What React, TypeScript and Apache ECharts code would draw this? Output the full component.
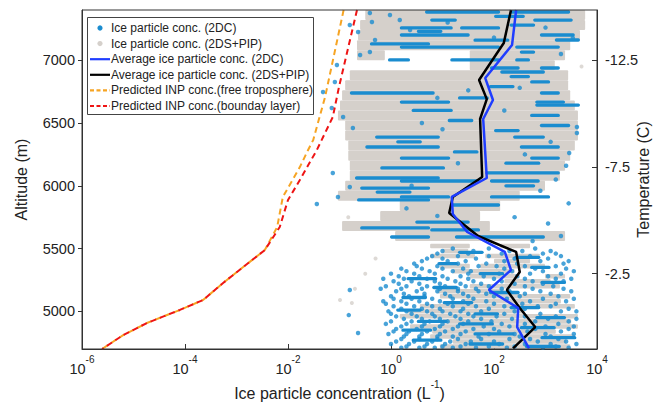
import React, { useEffect, useRef } from 'react';
import * as echarts from 'echarts';

const FONT = '"Liberation Sans", Arial, Helvetica, sans-serif';

const seriesNames = [
  'Ice particle conc. (2DC)',
  'Ice particle conc. (2DS+PIP)',
  'Average ice particle conc. (2DC)',
  'Average ice particle conc. (2DS+PIP)',
  'Predicted INP conc.(free troposphere)',
  'Predicted INP conc.(bounday layer)',
];

const colors = ['#1a8ccf', '#d5d0cb', '#1f3dff', '#000000', '#f6a423', '#ee1414'];

const altitudeTicks = [5000, 5500, 6000, 6500, 7000];
const temperatureTicks = [-12.5, -7.5, -2.5];

// [log10 concentration, altitude m]
const avg2DC = [
  [2.43, 7400], [2.35, 7121], [1.83, 6858], [1.98, 6683], [1.79, 6532], [1.86, 6062],
  [1.18, 5911], [1.2, 5775], [1.48, 5632], [2.21, 5473], [2.33, 5329], [1.9, 5170],
  [2.47, 5026], [2.45, 4875], [2.68, 4705],
];
const avg2DS = [
  [2.33, 7400], [2.19, 7137], [1.71, 6842], [1.86, 6690], [1.73, 6532], [1.77, 6070],
  [1.2, 5911], [1.13, 5783], [1.69, 5600], [2.43, 5473], [2.5, 5313], [2.25, 5170],
  [2.5, 5026], [2.8, 4875], [2.37, 4705],
];
const inpFree = [
  [-0.92, 7400], [-1.28, 6707], [-1.51, 6365], [-1.61, 6285], [-1.77, 6149], [-2.1, 5911],
  [-2.21, 5672], [-2.45, 5488], [-2.87, 5353], [-3.26, 5226], [-3.65, 5090], [-4.1, 5011],
  [-4.74, 4907], [-5.2, 4811], [-5.61, 4700],
];
const inpBoundary = [
  [-0.66, 7400], [-1.01, 6787], [-1.13, 6548], [-1.44, 6285], [-1.77, 6046], [-2.0, 5887],
  [-2.16, 5672], [-2.45, 5488], [-2.87, 5353], [-3.26, 5226], [-3.65, 5090], [-4.1, 5011],
  [-4.74, 4907], [-5.2, 4811], [-5.61, 4700],
];

// 2DS+PIP cloud rows: [altitude, log10 min, log10 max]
const grayDenseRows = [
  [7360, -0.5, 3.77], [7280, -0.6, 3.77], [7200, -0.64, 3.67], [7120, -0.66, 3.48],
  [7040, -0.66, -0.12], [7040, 1.53, 3.38], [6960, 1.53, 3.18],
  [6880, -0.8, 3.44], [6800, -0.89, 3.44], [6720, -0.95, 3.48], [6640, -0.99, 3.57],
  [6560, -1.03, 3.63], [6480, -0.89, 3.63], [6400, -0.89, 3.63], [6320, -0.83, 3.57],
  [6240, -0.83, 3.48], [6160, -0.8, 3.38], [6080, -0.8, 3.28], [6000, -0.89, 2.99],
  [5920, -1.03, 2.5], [5840, 0.17, 2.12], [5760, -0.21, 1.73], [5680, -0.95, 1.92],
  [5600, 0.08, 3.38],
];
const graySparseRows = [
  [5520, 0.76, 1.53], [5520, 2.12, 2.7], [5480, 1.0, 1.5], [5440, 0.76, 1.63], [5440, 1.83, 2.89],
  [5400, 2.0, 2.7], [5360, 0.95, 1.53], [5360, 1.73, 2.99], [5320, 1.2, 2.4],
  [5280, 1.53, 2.5], [5280, 2.99, 3.38], [5240, 2.2, 3.1], [5200, 1.53, 3.28],
  [5160, 0.9, 2.2], [5120, 0.95, 3.48], [5080, 1.4, 3.3], [5040, 0.56, 3.57],
  [5000, 0.3, 2.6], [4960, 0.17, 3.63], [4920, 1.0, 3.5], [4880, 0.37, 3.63],
  [4840, 0.8, 3.2], [4800, 0.76, 3.57], [4760, 1.2, 3.4], [4720, 0.95, 3.48],
];
const grayDots = [
  [-0.99, 5090], [-0.76, 5066], [-0.83, 5750], [-0.15, 5750], [-0.7, 5180], [-0.5, 5300],
  [-0.3, 5420], [3.7, 6950], [3.72, 7300],
];

// 2DC streaks: [altitude, log10 min, log10 max]
const blueStreaks = [
  [7384, 0.66, 2.12], [7384, 2.31, 3.48], [7320, 0.76, 1.28], [7320, 2.76, 3.53],
  [7257, 0.17, 1.2], [7257, 1.34, 2.12], [7201, 0.17, 1.53], [7201, 2.89, 3.57],
  [7161, 3.18, 3.67], [7130, -0.41, 0.76], [7105, 0.17, 2.12], [7105, 2.41, 3.28],
  [7065, 2.5, 2.8], [7002, 1.15, 2.12], [7002, 2.41, 2.7], [7002, -0.06, 0.37],
  [6938, 1.92, 2.5], [6938, 2.89, 3.28], [6906, 2.12, 2.99], [6827, 2.7, 3.09],
  [6739, -0.8, 0.85], [6739, 2.89, 3.28], [6667, 0.17, 1.15], [6667, 2.8, 3.38],
  [6643, 2.8, 3.67], [6560, 2.7, 3.28], [6480, 2.89, 3.48],
  [6388, -0.31, 0.95], [6388, 2.37, 2.99], [6309, -0.5, 0.95], [6309, 2.5, 3.28],
  [6221, 0.17, 1.15], [6221, 2.7, 3.28], [6142, -0.21, 1.05], [6102, 1.83, 3.28],
  [6062, -0.7, 0.95], [6038, 0.17, 1.73], [6038, 1.92, 2.89], [5982, -0.6, 0.76],
  [5911, 0.17, 1.15], [5911, 1.92, 3.09], [5887, -0.66, 0.76], [5847, 1.15, 2.12],
  [5711, 0.47, 1.53], [5664, -0.6, 0.76], [5648, 0.76, 1.73], [5592, -0.02, 0.76],
  [5592, 1.24, 2.99],
  [7350, 2.0, 2.6], [7280, 2.3, 2.8], [7230, 0.5, 1.0], [7160, 1.6, 2.3], [6870, 2.3, 2.7],
  [6790, 1.9, 2.4], [6700, 1.3, 1.9], [6600, 0.4, 1.2], [6520, 1.1, 1.6], [6440, 2.0, 2.5],
  [6350, 0.1, 0.6], [6270, 1.2, 1.7], [6180, 2.2, 2.9], [6000, 2.2, 2.8], [5950, -0.3, 0.4],
  [5470, 1.3, 1.8], [5430, 2.4, 2.9], [5380, 0.9, 1.3], [5350, 2.7, 3.1], [5300, 1.7, 2.2],
  [5260, 0.3, 0.9], [5230, 2.9, 3.4], [5190, 0.8, 1.3], [5150, 1.9, 2.5], [5110, 0.2, 0.7],
  [5070, 1.0, 1.6], [5030, 2.3, 2.9], [5010, 0.1, 0.6], [4980, 1.6, 2.1], [4950, 2.8, 3.4],
  [4920, 0.5, 1.1], [4900, 1.3, 2.0], [4870, 2.5, 3.2], [4850, 0.2, 0.8], [4820, 1.6, 2.4],
  [4790, 2.9, 3.6], [4770, 0.4, 1.0], [4740, 1.5, 2.2], [4720, 2.6, 3.3],
];

// 2DC individual particles: [log10 conc, altitude]
const blueDots = [
  [-0.41, 7376], [-0.37, 7304], [-0.8, 7281], [-0.64, 7225], [-0.02, 7360], [0.17, 7320],
  [0.37, 7241], [-0.31, 7161], [-0.6, 7042], [-0.41, 7065], [-1.05, 6962], [-1.32, 6747],
  [-1.09, 6827], [-1.15, 6619], [-0.93, 6548], [-0.74, 6460], [-1.13, 6102], [-0.8, 5990],
  [-1.03, 5911], [-1.44, 5855], [-0.8, 5170], [-0.82, 4970], [-0.64, 4828], [3.53, 7177],
  [3.61, 6420], [3.61, 6468], [3.46, 6261],
  [1.5, 6760], [2.2, 6600], [1.0, 6450], [0.6, 6500], [2.6, 6250], [1.3, 6180], [0.4, 6000],
  [2.9, 5960], [3.2, 6050], [3.4, 6160], [3.1, 6350], [0.9, 6700], [2.5, 6780], [1.1, 7300],
  [2.0, 7180], [3.0, 7260], [3.3, 7050], [0.3, 5820], [0.9, 5760], [2.4, 5750], [3.3, 5600],
  [3.05, 5700], [2.75, 5560], [3.45, 5860],
  [1.0, 5480], [1.6, 5480], [2.3, 5480], [2.55, 5480], [3.1, 5480],
  [0.8, 5440], [1.3, 5440], [1.9, 5440], [2.7, 5440], [3.3, 5440],
  [0.6, 5400], [1.1, 5400], [1.45, 5400], [2.2, 5400], [2.9, 5400], [3.45, 5400],
  [0.5, 5360], [0.9, 5360], [1.7, 5360], [2.05, 5360], [2.6, 5360], [3.2, 5360],
  [0.3, 5320], [0.75, 5320], [1.2, 5320], [1.55, 5320], [2.35, 5320], [2.95, 5320], [3.55, 5320],
  [0.15, 5280], [0.55, 5280], [1.0, 5280], [1.35, 5280], [1.8, 5280], [2.45, 5280], [3.05, 5280],
  [0.05, 5240], [0.4, 5240], [0.85, 5240], [1.25, 5240], [1.6, 5240], [2.15, 5240], [2.75, 5240], [3.35, 5240],
  [-0.1, 5200], [0.3, 5200], [0.7, 5200], [1.05, 5200], [1.45, 5200], [1.9, 5200], [2.6, 5200], [3.15, 5200],
  [0.1, 5160], [0.5, 5160], [0.9, 5160], [1.3, 5160], [1.7, 5160], [2.3, 5160], [2.9, 5160], [3.5, 5160],
  [0.0, 5120], [0.35, 5120], [0.65, 5120], [1.15, 5120], [1.5, 5120], [2.0, 5120], [2.5, 5120], [3.25, 5120],
  [-0.15, 5080], [0.2, 5080], [0.55, 5080], [0.95, 5080], [1.4, 5080], [1.85, 5080], [2.7, 5080], [3.4, 5080],
  [0.05, 5040], [0.45, 5040], [0.8, 5040], [1.2, 5040], [1.65, 5040], [2.2, 5040], [2.85, 5040], [3.1, 5040],
  [-0.05, 5000], [0.3, 5000], [0.7, 5000], [1.0, 5000], [1.35, 5000], [1.75, 5000], [2.4, 5000], [3.3, 5000], [3.6, 5000],
  [0.1, 4960], [0.5, 4960], [0.85, 4960], [1.25, 4960], [1.6, 4960], [2.05, 4960], [2.6, 4960], [3.2, 4960],
  [0.0, 4920], [0.4, 4920], [0.75, 4920], [1.1, 4920], [1.5, 4920], [1.95, 4920], [2.8, 4920], [3.45, 4920],
  [0.2, 4880], [0.6, 4880], [0.95, 4880], [1.3, 4880], [1.8, 4880], [2.3, 4880], [3.0, 4880], [3.55, 4880],
  [0.05, 4840], [0.35, 4840], [0.7, 4840], [1.05, 4840], [1.45, 4840], [2.1, 4840], [2.65, 4840], [3.3, 4840],
  [0.25, 4800], [0.55, 4800], [0.9, 4800], [1.2, 4800], [1.7, 4800], [2.5, 4800], [3.1, 4800],
  [0.1, 4760], [0.45, 4760], [0.8, 4760], [1.15, 4760], [1.55, 4760], [2.0, 4760], [2.85, 4760], [3.4, 4760],
  [0.3, 4720], [0.65, 4720], [1.0, 4720], [1.35, 4720], [1.9, 4720], [2.4, 4720], [3.2, 4720],
  [1.2, 5500], [1.9, 5500], [2.8, 5500],
  [0.9, 5460], [1.5, 5460], [2.15, 5460], [2.95, 5460], [3.2, 5460],
  [0.7, 5420], [1.0, 5420], [1.65, 5420], [2.4, 5420], [3.05, 5420],
  [0.45, 5380], [1.3, 5380], [1.85, 5380], [2.45, 5380], [3.35, 5380],
  [0.2, 5340], [0.6, 5340], [1.0, 5340], [1.4, 5340], [2.2, 5340], [2.8, 5340], [3.4, 5340],
  [0.0, 5300], [0.45, 5300], [0.85, 5300], [1.5, 5300], [2.1, 5300], [2.7, 5300], [3.3, 5300],
  [-0.15, 5260], [0.25, 5260], [0.7, 5260], [1.1, 5260], [1.5, 5260], [2.0, 5260], [2.6, 5260], [3.2, 5260], [3.5, 5260],
  [0.15, 5220], [0.55, 5220], [0.95, 5220], [1.35, 5220], [1.75, 5220], [2.4, 5220], [2.95, 5220],
  [-0.2, 5180], [0.2, 5180], [0.6, 5180], [0.95, 5180], [1.3, 5180], [1.65, 5180], [2.15, 5180], [2.75, 5180], [3.35, 5180],
  [0.25, 5140], [0.65, 5140], [1.05, 5140], [1.4, 5140], [1.85, 5140], [2.6, 5140], [3.1, 5140],
  [0.05, 5100], [0.4, 5100], [0.8, 5100], [1.2, 5100], [1.6, 5100], [2.25, 5100], [2.95, 5100], [3.55, 5100],
  [-0.1, 5060], [0.3, 5060], [0.7, 5060], [1.1, 5060], [1.5, 5060], [2.0, 5060], [2.55, 5060], [3.2, 5060],
  [0.2, 5020], [0.6, 5020], [0.95, 5020], [1.4, 5020], [1.9, 5020], [2.6, 5020], [3.45, 5020],
  [0.0, 4980], [0.4, 4980], [0.8, 4980], [1.15, 4980], [1.5, 4980], [2.2, 4980], [2.9, 4980],
  [0.25, 4940], [0.6, 4940], [0.95, 4940], [1.35, 4940], [1.75, 4940], [2.35, 4940], [3.05, 4940], [3.6, 4940],
  [-0.1, 4900], [0.3, 4900], [0.65, 4900], [1.0, 4900], [1.4, 4900], [2.15, 4900], [2.6, 4900], [3.25, 4900],
  [0.1, 4860], [0.5, 4860], [0.85, 4860], [1.2, 4860], [1.6, 4860], [2.0, 4860], [2.8, 4860], [3.45, 4860],
  [-0.05, 4820], [0.3, 4820], [0.6, 4820], [0.95, 4820], [1.35, 4820], [1.9, 4820], [2.4, 4820], [3.0, 4820], [3.55, 4820],
  [0.2, 4780], [0.55, 4780], [0.9, 4780], [1.3, 4780], [1.75, 4780], [2.3, 4780], [2.7, 4780], [3.25, 4780],
  [0.0, 4740], [0.35, 4740], [0.7, 4740], [1.05, 4740], [1.45, 4740], [2.1, 4740], [2.6, 4740], [3.1, 4740], [3.6, 4740],
  [0.2, 4710], [0.55, 4710], [0.85, 4710], [1.2, 4710], [1.65, 4710], [2.25, 4710], [2.95, 4710], [3.45, 4710],
];

const toPts = (arr: number[][]) => arr.map(([l, a]) => [Math.pow(10, l), a]);
const toRows = (arr: number[][]) => arr.map(([a, l1, l2]) => [a, Math.pow(10, l1), Math.pow(10, l2)]);

const rowRender = (half: number, color: string) => (params: any, api: any) => {
  const a = api.value(0);
  const p1 = api.coord([api.value(1), a + half]);
  const p2 = api.coord([api.value(2), a - half]);
  return {
    type: 'rect',
    shape: { x: p1[0], y: p1[1], width: Math.max(p2[0] - p1[0], 2), height: p2[1] - p1[1], r: 1 },
    style: { fill: color },
  };
};
const streakRender = (px: number, color: string) => (params: any, api: any) => {
  const a = api.value(0);
  const p1 = api.coord([api.value(1), a]);
  const p2 = api.coord([api.value(2), a]);
  return {
    type: 'rect',
    shape: { x: p1[0], y: p1[1] - px / 2, width: Math.max(p2[0] - p1[0], px), height: px, r: px / 2 },
    style: { fill: color },
  };
};

export default function App() {
  const ref = useRef<HTMLDivElement>(null);
  useEffect(() => {
    const chart = echarts.init(ref.current!, null, { renderer: 'svg' });
    const labelStyle = { fontFamily: FONT, fontSize: 14.5, color: '#222' };
    const legendRows = seriesNames.map((name, i) => {
      const cy = 28 + i * 15.6;
      const els: any[] = [];
      if (i < 2) {
        els.push({ type: 'circle', shape: { cx: 100, cy, r: 2.6 }, style: { fill: colors[i] } });
      } else {
        els.push({
          type: 'line',
          shape: { x1: 90, y1: cy, x2: 110, y2: cy },
          style: { stroke: colors[i], lineWidth: 2.2, lineDash: i >= 4 ? [4, 2.5] : null },
        });
      }
      els.push({
        type: 'text',
        x: 111,
        y: cy,
        style: { text: name, fontFamily: FONT, fontSize: 12, fill: '#222', verticalAlign: 'middle' },
      });
      return els;
    }).flat();

    const option: any = {
      animation: false,
      grid: { left: 82, right: 57, top: 10, bottom: 57, outerBoundsMode: 'none', containLabel: false },
      xAxis: {
        type: 'log',
        logBase: 10,
        min: 1e-6,
        max: 1e4,
        interval: 2,
        axisLine: { show: true, onZero: false, lineStyle: { color: '#333', width: 1 } },
        axisTick: { show: true, inside: true, length: 5, lineStyle: { color: '#333' } },
        minorTick: { show: false },
        splitLine: { show: false },
        axisLabel: {
          margin: 5,
          formatter: (v: number) => `{b|10}{s|${Math.round(Math.log10(v))}}`,
          rich: {
            b: { ...labelStyle, lineHeight: 22, verticalAlign: 'bottom' },
            s: { fontFamily: FONT, fontSize: 10, color: '#222', lineHeight: 22, verticalAlign: 'top' },
          },
        },
        name: '{n|Ice particle concentration (L}{s|-1}{n|)}',
        nameLocation: 'middle',
        nameGap: 30,
        nameMoveOverlap: false,
        nameTextStyle: {
          rich: {
            n: { fontFamily: FONT, fontSize: 16, color: '#222', lineHeight: 22, verticalAlign: 'bottom' },
            s: { fontFamily: FONT, fontSize: 10, color: '#222', lineHeight: 22, verticalAlign: 'top' },
          },
        },
      },
      yAxis: [
        {
          type: 'value',
          min: 4700,
          max: 7400,
          axisLine: { show: true, onZero: false, lineStyle: { color: '#333' } },
          axisTick: { show: true, inside: false, length: 4, customValues: altitudeTicks, lineStyle: { color: '#333' } },
          axisLabel: { ...labelStyle, margin: 7, customValues: altitudeTicks, formatter: (v: number) => String(v) },
          splitLine: { show: false },
          name: 'Altitude (m)',
          nameLocation: 'middle',
          nameGap: 53,
          nameMoveOverlap: false,
          nameTextStyle: { fontFamily: FONT, fontSize: 16, color: '#222' },
        },
        {
          type: 'value',
          position: 'right',
          min: -14.85,
          max: 1.03,
          inverse: true,
          axisLine: { show: true, onZero: false, lineStyle: { color: '#333' } },
          axisTick: { show: true, inside: true, length: 5, customValues: temperatureTicks, lineStyle: { color: '#333' } },
          axisLabel: { ...labelStyle, margin: 8, customValues: temperatureTicks, formatter: (v: number) => String(v) },
          splitLine: { show: false },
          name: 'Temperature (C)',
          nameLocation: 'middle',
          nameGap: 38,
          nameMoveOverlap: false,
          nameTextStyle: { fontFamily: FONT, fontSize: 16, color: '#222' },
        },
      ],
      graphic: [
        {
          type: 'rect',
          z: 100,
          shape: { x: 82, y: 10, width: 515, height: 339 },
          style: { fill: 'none', stroke: '#333', lineWidth: 1 },
          silent: true,
        },
        {
          type: 'rect',
          z: 100,
          shape: { x: 87.5, y: 17.5, width: 226, height: 97 },
          style: { fill: '#fff', stroke: '#444', lineWidth: 1 },
        },
        ...legendRows.map((e: any) => ({ ...e, z: 101 })),
      ],
      series: [
        {
          name: seriesNames[1],
          type: 'custom',
          renderItem: rowRender(40, colors[1]),
          encode: { x: [1, 2], y: 0 },
          data: toRows(grayDenseRows),
          clip: true,
          z: 1,
        },
        {
          name: seriesNames[1],
          type: 'custom',
          renderItem: rowRender(18, colors[1]),
          encode: { x: [1, 2], y: 0 },
          data: toRows(graySparseRows),
          clip: true,
          z: 1,
        },
        {
          name: seriesNames[1],
          type: 'scatter',
          symbolSize: 4,
          itemStyle: { color: colors[1] },
          data: toPts(grayDots),
          z: 1,
        },
        {
          name: seriesNames[0],
          type: 'custom',
          renderItem: streakRender(3.3, colors[0]),
          encode: { x: [1, 2], y: 0 },
          data: toRows(blueStreaks),
          clip: true,
          z: 2,
        },
        {
          name: seriesNames[0],
          type: 'scatter',
          symbolSize: 4.5,
          itemStyle: { color: colors[0] },
          data: toPts(blueDots),
          z: 2,
        },
        {
          name: seriesNames[4],
          type: 'line',
          data: toPts(inpFree),
          symbol: 'none',
          lineStyle: { color: colors[4], width: 2, type: [6, 4] },
          z: 3,
        },
        {
          name: seriesNames[5],
          type: 'line',
          data: toPts(inpBoundary),
          symbol: 'none',
          lineStyle: { color: colors[5], width: 2, type: [6, 4] },
          z: 3,
        },
        {
          name: seriesNames[3],
          type: 'line',
          data: toPts(avg2DS),
          symbol: 'none',
          lineStyle: { color: colors[3], width: 2.5 },
          z: 4,
        },
        {
          name: seriesNames[2],
          type: 'line',
          data: toPts(avg2DC),
          symbol: 'none',
          lineStyle: { color: colors[2], width: 2.5 },
          z: 4,
        },
      ],
    };
    chart.setOption(option);
    return () => chart.dispose();
  }, []);
  return (
    <div
      ref={ref}
      style={{ position: 'fixed', left: 0, top: 0, width: 654, height: 406, background: '#fff' }}
    />
  );
}
